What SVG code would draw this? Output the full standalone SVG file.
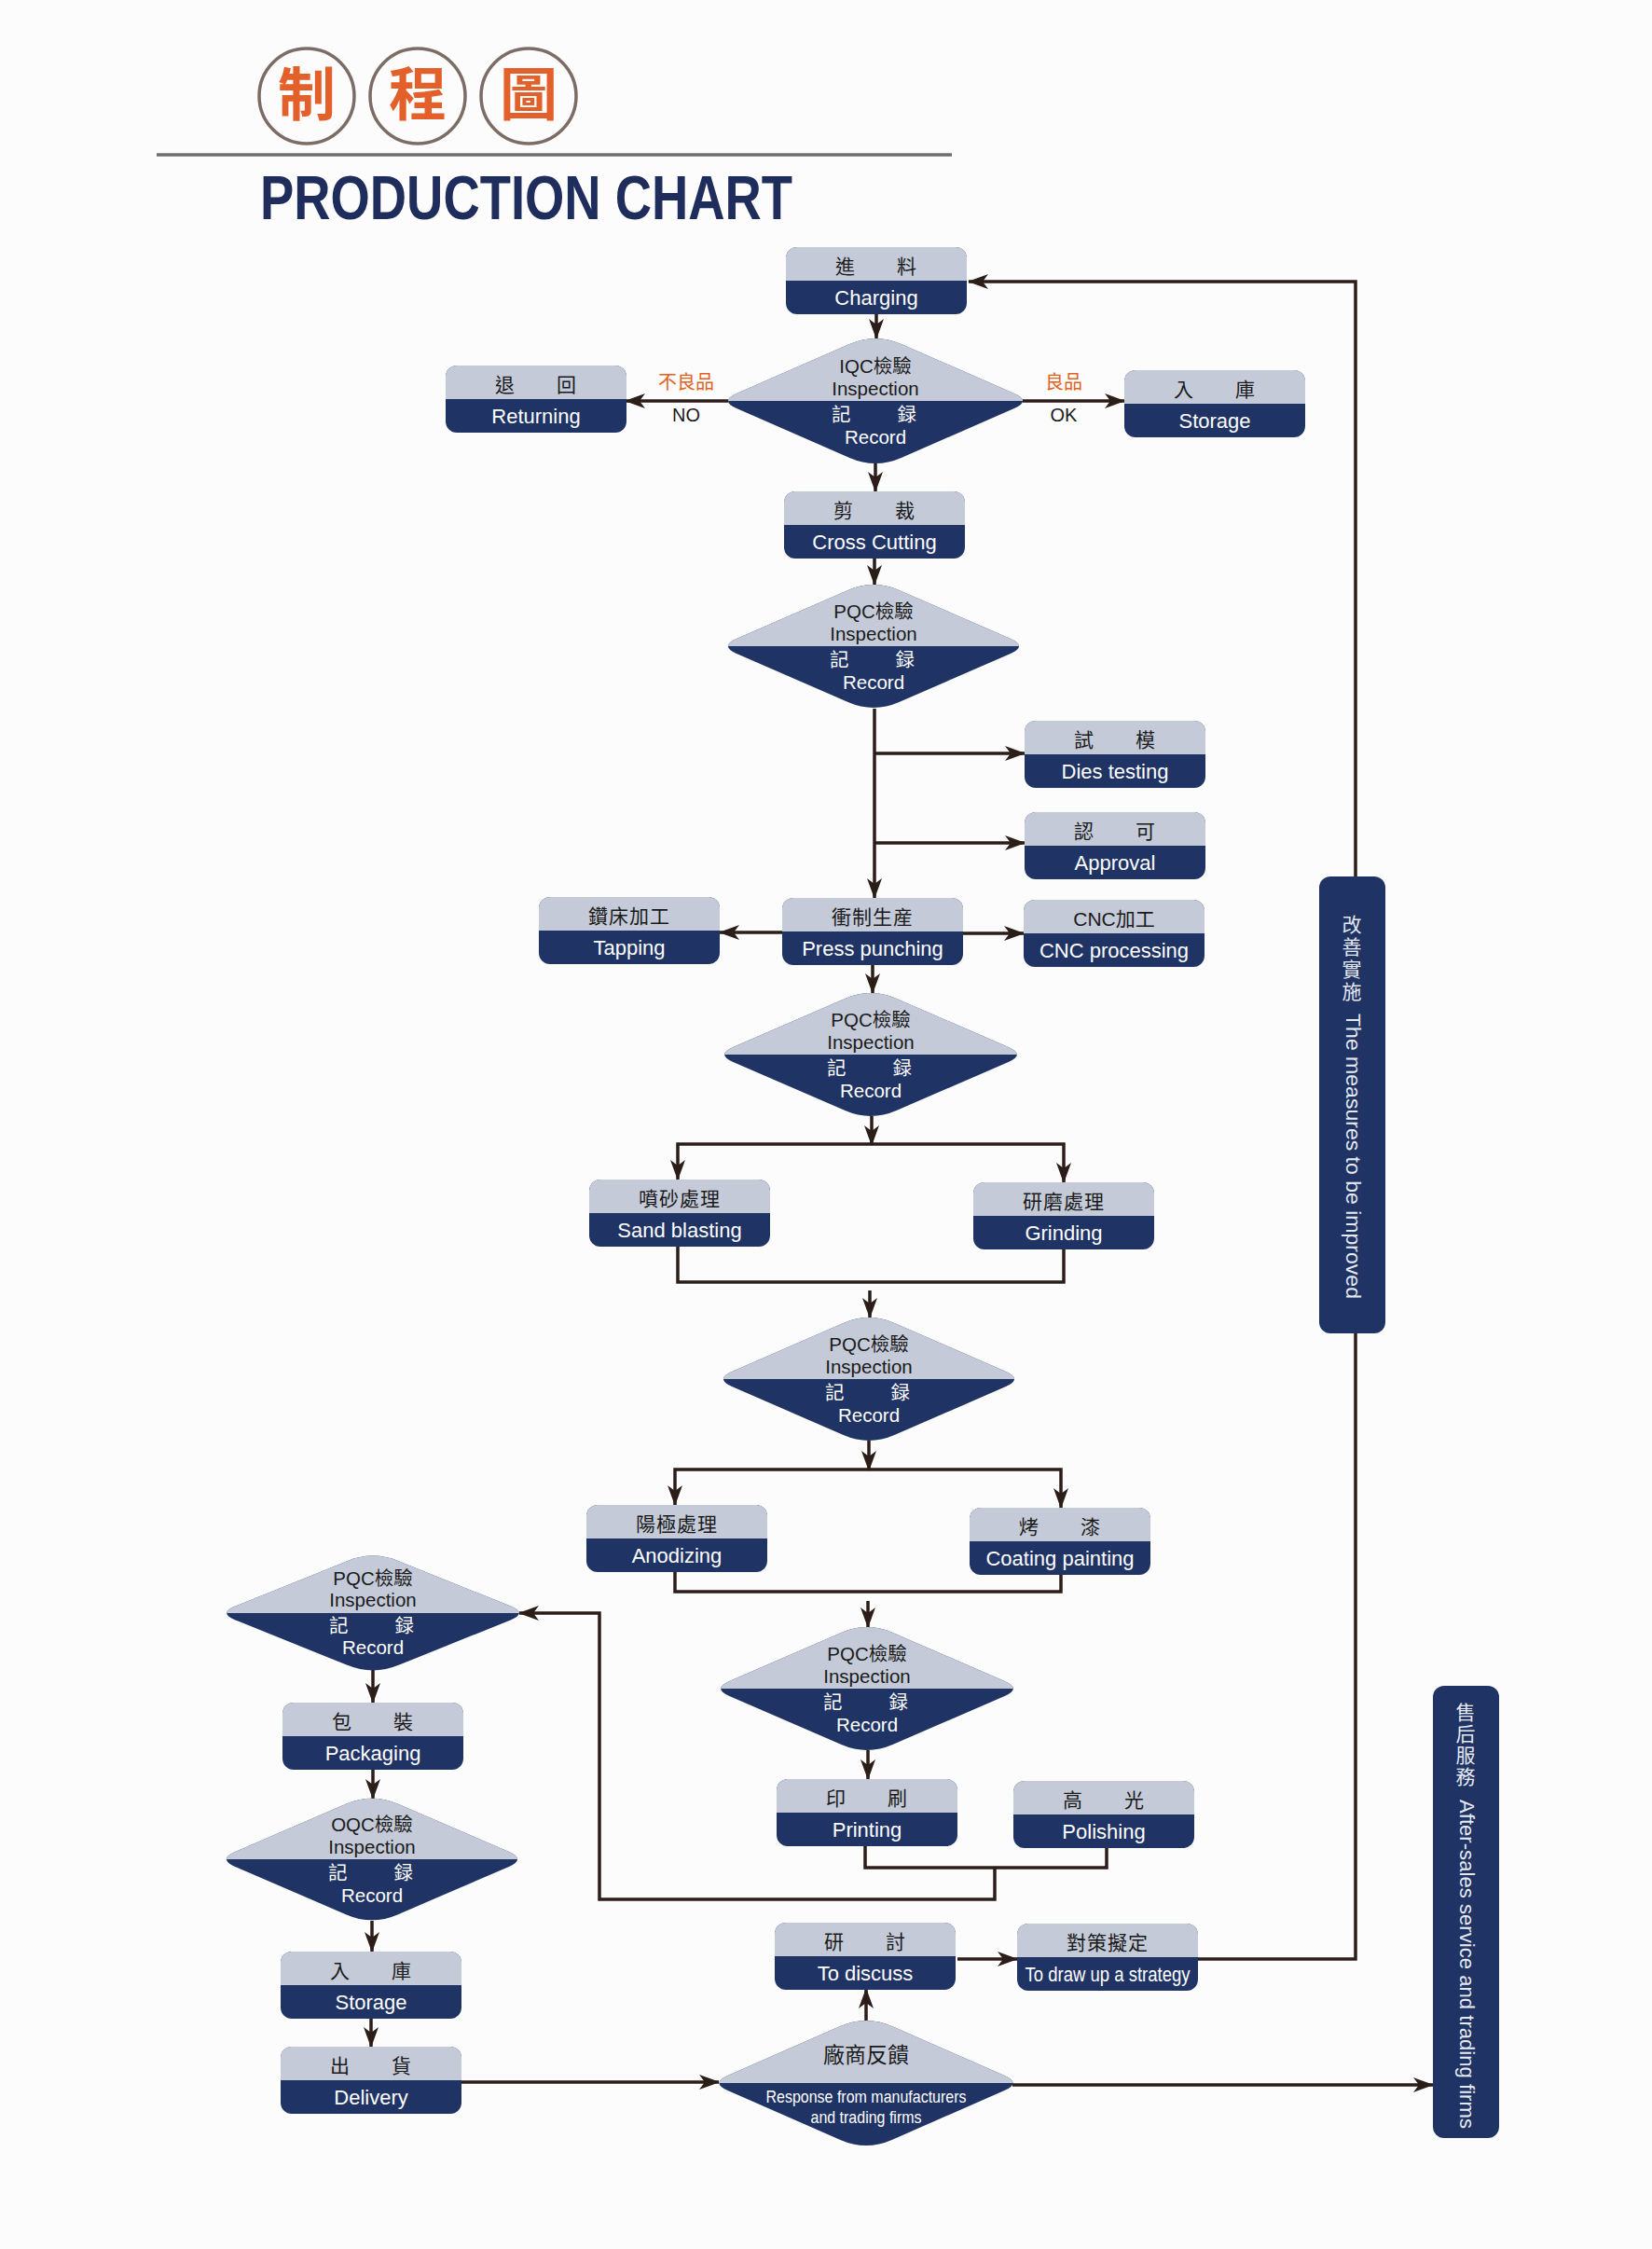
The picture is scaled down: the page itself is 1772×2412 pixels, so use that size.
<svg xmlns="http://www.w3.org/2000/svg" xmlns:xlink="http://www.w3.org/1999/xlink" width="1772" height="2412" viewBox="0 0 1772 2412">
<style>
.ln{fill:none;stroke:#2b1d18;stroke-width:3.5}
.ar{marker-end:url(#ah)}
.cj{font-family:"Noto Sans CJK TC","Noto Sans CJK SC",sans-serif;font-size:21px;fill:#1a1a1a;text-anchor:middle;letter-spacing:1px}
.en{font-family:"Liberation Sans",Arial,sans-serif;font-size:22px;fill:#ffffff;text-anchor:middle}
.dt{font-family:"Liberation Sans","Noto Sans CJK TC",sans-serif;font-size:20.5px;fill:#1a1a1a;text-anchor:middle}
.dw{font-family:"Noto Sans CJK TC","Noto Sans CJK SC",sans-serif;font-size:20.5px;fill:#ffffff;text-anchor:middle;letter-spacing:3px}
.de{font-family:"Liberation Sans",Arial,sans-serif;font-size:20.5px;fill:#ffffff;text-anchor:middle}
.or{font-family:"Noto Sans CJK TC","Noto Sans CJK SC",sans-serif;font-size:20px;fill:#e2621e;text-anchor:middle}
.lb{font-family:"Liberation Sans",Arial,sans-serif;font-size:20px;fill:#1a1a1a;text-anchor:middle}
.vb{font-family:"Noto Sans CJK TC","Noto Sans CJK SC",sans-serif;font-size:21px;fill:#e6e8f0;text-anchor:middle}
.vbe{font-family:"Liberation Sans",Arial,sans-serif;font-size:22.5px;fill:#e6e8f0}
.bar{fill:#1f3364}
</style>
<defs>
<marker id="ah" viewBox="0 0 22 16" refX="21" refY="8" markerWidth="22" markerHeight="16" markerUnits="userSpaceOnUse" orient="auto">
<path d="M0,0 L22,8 L0,16 L6,8 Z" fill="#2b1d18"/>
</marker>
<path id="dp" d="M-147.65,-7.96 L-27.52,-60.06 Q0,-72 27.52,-60.06 L147.65,-7.96 Q166,0 147.65,7.96 L27.52,60.06 Q0,72 -27.52,60.06 L-147.65,7.96 Q-166,0 -147.65,-7.96 Z"/>
<clipPath id="ct"><rect x="-180" y="-90" width="360" height="90"/></clipPath>
<g id="dmd"><use href="#dp" fill="#1f3364"/><use href="#dp" fill="#c4cad8" clip-path="url(#ct)"/></g>
<g id="box"><rect width="194" height="72" rx="12" fill="#1f3364"/><path d="M0,36 V12 A12,12 0 0 1 12,0 H182 A12,12 0 0 1 194,12 V36 Z" fill="#c4cad8"/></g>
</defs>
<rect width="1772" height="2412" fill="#fcfcfc"/>

<g id="title">
<circle cx="329" cy="103" r="51" fill="none" stroke="#7b6d66" stroke-width="3.5"/>
<circle cx="448" cy="103" r="51" fill="none" stroke="#7b6d66" stroke-width="3.5"/>
<circle cx="567" cy="103" r="51" fill="none" stroke="#7b6d66" stroke-width="3.5"/>
<text x="329" y="124" font-family="Noto Sans CJK TC, Noto Sans CJK SC, sans-serif" font-size="62" font-weight="bold" fill="#e4602a" text-anchor="middle">制</text>
<text x="448" y="124" font-family="Noto Sans CJK TC, Noto Sans CJK SC, sans-serif" font-size="62" font-weight="bold" fill="#e4602a" text-anchor="middle">程</text>
<text x="567" y="124" font-family="Noto Sans CJK TC, Noto Sans CJK SC, sans-serif" font-size="62" font-weight="bold" fill="#e4602a" text-anchor="middle">圖</text>
<line x1="168" y1="166" x2="1021" y2="166" stroke="#6e6e6e" stroke-width="3.5"/>
<text x="279" y="235" font-family="Liberation Sans, Arial, sans-serif" font-size="66" font-weight="bold" fill="#1f2d5c" textLength="571" lengthAdjust="spacingAndGlyphs">PRODUCTION CHART</text>
</g>

<g id="connectors">
<path class="ln ar" d="M940,337 V363"/>
<path class="ln ar" d="M781,430 H671"/>
<path class="ln ar" d="M1097,430 H1206"/>
<path class="ln ar" d="M939,497 V527"/>
<path class="ln ar" d="M938,598 V627"/>
<path class="ln ar" d="M938,760 V963"/>
<path class="ln ar" d="M938,808 H1099"/>
<path class="ln ar" d="M938,904 H1099"/>
<path class="ln ar" d="M839,1000 H772"/>
<path class="ln ar" d="M1033,1001 H1098"/>
<path class="ln ar" d="M936,1035 V1065"/>
<path class="ln ar" d="M935,1197 V1228"/>
<path class="ln ar" d="M935,1227 H727 V1265"/>
<path class="ln ar" d="M935,1227 H1141 V1268"/>
<path class="ln" d="M727,1337 V1375 H1141 V1339"/>
<path class="ln ar" d="M933,1384 V1413"/>
<path class="ln ar" d="M932,1545 V1577"/>
<path class="ln ar" d="M932,1576 H724 V1614"/>
<path class="ln ar" d="M932,1576 H1138 V1617"/>
<path class="ln" d="M724,1685 V1707 H1138 V1688"/>
<path class="ln ar" d="M931,1717 V1745"/>
<path class="ln ar" d="M931,1877 V1908"/>
<path class="ln" d="M928,1980 V2003 H1187 V1982"/>
<path class="ln ar" d="M1067,2003 V2037 H643 V1730 H557"/>
<path class="ln ar" d="M400,1791 V1826"/>
<path class="ln ar" d="M400,1897 V1929"/>
<path class="ln ar" d="M399,2060 V2093"/>
<path class="ln ar" d="M398,2164 V2195"/>
<path class="ln ar" d="M495,2233 H771"/>
<path class="ln ar" d="M929,2167 V2133"/>
<path class="ln ar" d="M1086,2236 H1537"/>
<path class="ln ar" d="M1027,2101 H1091"/>
<path class="ln" d="M1285,2101 H1454 V1430"/>
<path class="ln ar" d="M1454,940 V302 H1039"/>
<text class="or" x="736" y="417">不良品</text>
<text class="lb" x="736" y="452">NO</text>
<text class="or" x="1141" y="417">良品</text>
<text class="lb" x="1141" y="452">OK</text>
</g>

<g id="n-charging"><use href="#box" x="843" y="265"/><text class="cj" x="940" y="293">進　　料</text><text class="en" x="940" y="327">Charging</text></g>
<g id="n-returning"><use href="#box" x="478" y="392"/><text class="cj" x="575" y="420">退　　回</text><text class="en" x="575" y="454">Returning</text></g>
<g id="n-storage1"><use href="#box" x="1206" y="397"/><text class="cj" x="1303" y="425">入　　庫</text><text class="en" x="1303" y="459">Storage</text></g>
<g id="n-iqc"><use href="#dmd" transform="translate(939,430) scale(1.008,1.015)"/><text class="dt" x="939" y="400">IQC檢驗</text><text class="dt" x="939" y="424">Inspection</text><text class="dw" x="939" y="452">記　　録</text><text class="de" x="939" y="476">Record</text></g>
<g id="n-cross"><use href="#box" x="841" y="527"/><text class="cj" x="938" y="555">剪　　裁</text><text class="en" x="938" y="589">Cross Cutting</text></g>
<g id="n-pqc1"><use href="#dmd" transform="translate(937,693) scale(0.995,1.0)"/><text class="dt" x="937" y="663">PQC檢驗</text><text class="dt" x="937" y="687">Inspection</text><text class="dw" x="937" y="715">記　　録</text><text class="de" x="937" y="739">Record</text></g>
<g id="n-dies"><use href="#box" x="1099" y="773"/><text class="cj" x="1196" y="801">試　　模</text><text class="en" x="1196" y="835">Dies testing</text></g>
<g id="n-approval"><use href="#box" x="1099" y="871"/><text class="cj" x="1196" y="899">認　　可</text><text class="en" x="1196" y="933">Approval</text></g>
<g id="n-tapping"><use href="#box" x="578" y="962"/><text class="cj" x="675" y="990">鑽床加工</text><text class="en" x="675" y="1024">Tapping</text></g>
<g id="n-press"><use href="#box" x="839" y="963"/><text class="cj" x="936" y="991">衝制生産</text><text class="en" x="936" y="1025">Press punching</text></g>
<g id="n-cnc"><use href="#box" x="1098" y="965"/><text class="dt" x="1195" y="993" style="font-size:21px">CNC加工</text><text class="en" x="1195" y="1027">CNC processing</text></g>
<g id="n-pqc2"><use href="#dmd" transform="translate(934,1131) scale(1.0,1.0)"/><text class="dt" x="934" y="1101">PQC檢驗</text><text class="dt" x="934" y="1125">Inspection</text><text class="dw" x="934" y="1153">記　　録</text><text class="de" x="934" y="1177">Record</text></g>
<g id="n-sand"><use href="#box" x="632" y="1265"/><text class="cj" x="729" y="1293">噴砂處理</text><text class="en" x="729" y="1327">Sand blasting</text></g>
<g id="n-grinding"><use href="#box" x="1044" y="1268"/><text class="cj" x="1141" y="1296">研磨處理</text><text class="en" x="1141" y="1330">Grinding</text></g>
<g id="n-pqc3"><use href="#dmd" transform="translate(932,1479) scale(0.995,1.0)"/><text class="dt" x="932" y="1449">PQC檢驗</text><text class="dt" x="932" y="1473">Inspection</text><text class="dw" x="932" y="1501">記　　録</text><text class="de" x="932" y="1525">Record</text></g>
<g id="n-anodizing"><use href="#box" x="629" y="1614"/><text class="cj" x="726" y="1642">陽極處理</text><text class="en" x="726" y="1676">Anodizing</text></g>
<g id="n-coating"><use href="#box" x="1040" y="1617"/><text class="cj" x="1137" y="1645">烤　　漆</text><text class="en" x="1137" y="1679">Coating painting</text></g>
<g id="n-pqc4"><use href="#dmd" transform="translate(930,1811) scale(1.0,1.0)"/><text class="dt" x="930" y="1781">PQC檢驗</text><text class="dt" x="930" y="1805">Inspection</text><text class="dw" x="930" y="1833">記　　録</text><text class="de" x="930" y="1857">Record</text></g>
<g id="n-printing"><use href="#box" x="833" y="1908"/><text class="cj" x="930" y="1936">印　　刷</text><text class="en" x="930" y="1970">Printing</text></g>
<g id="n-polishing"><use href="#box" x="1087" y="1910"/><text class="cj" x="1184" y="1938">高　　光</text><text class="en" x="1184" y="1972">Polishing</text></g>
<g id="n-pqc5"><use href="#dmd" transform="translate(400,1730) scale(1.0,0.93)"/><text class="dt" x="400" y="1700">PQC檢驗</text><text class="dt" x="400" y="1723">Inspection</text><text class="dw" x="400" y="1751">記　　録</text><text class="de" x="400" y="1774">Record</text></g>
<g id="n-packaging"><use href="#box" x="303" y="1826"/><text class="cj" x="400" y="1854">包　　裝</text><text class="en" x="400" y="1888">Packaging</text></g>
<g id="n-oqc"><use href="#dmd" transform="translate(399,1994) scale(0.995,0.99)"/><text class="dt" x="399" y="1964">OQC檢驗</text><text class="dt" x="399" y="1988">Inspection</text><text class="dw" x="399" y="2016">記　　録</text><text class="de" x="399" y="2040">Record</text></g>
<g id="n-storage2"><use href="#box" x="301" y="2093"/><text class="cj" x="398" y="2121">入　　庫</text><text class="en" x="398" y="2155">Storage</text></g>
<g id="n-delivery"><use href="#box" x="301" y="2195"/><text class="cj" x="398" y="2223">出　　貨</text><text class="en" x="398" y="2257">Delivery</text></g>
<g id="n-discuss"><use href="#box" x="831" y="2062"/><text class="cj" x="928" y="2090">研　　討</text><text class="en" x="928" y="2124">To discuss</text></g>
<g id="n-strategy"><use href="#box" x="1091" y="2063"/><text class="cj" x="1188" y="2091">對策擬定</text><text class="en" x="1188" y="2125" textLength="177" lengthAdjust="spacingAndGlyphs">To draw up a strategy</text></g>
<g id="n-feedback"><use href="#dmd" transform="translate(929,2234) scale(1.005,1.015)"/><text class="cj" x="929" y="2212" style="font-size:23px;letter-spacing:0">廠商反饋</text><text class="en" x="929" y="2255" style="font-size:19px" textLength="215" lengthAdjust="spacingAndGlyphs">Response from manufacturers</text><text class="en" x="929" y="2277" style="font-size:19px" textLength="119" lengthAdjust="spacingAndGlyphs">and trading firms</text></g>
<g id="n-measures"><rect class="bar" x="1415" y="940" width="71" height="490" rx="12"/><text class="vb" x="1450 1450 1450 1450" y="999 1023 1047 1071">改善實施</text><text class="vbe" transform="translate(1444,1087) rotate(90)" textLength="306" lengthAdjust="spacingAndGlyphs">The measures to be improved</text></g>
<g id="n-aftersales"><rect class="bar" x="1537" y="1808" width="71" height="485" rx="12"/><text class="vb" x="1572 1572 1572 1572" y="1844 1867 1890 1913">售后服務</text><text class="vbe" transform="translate(1566,1930) rotate(90)" textLength="353" lengthAdjust="spacingAndGlyphs">After-sales service and trading firms</text></g>
</svg>
